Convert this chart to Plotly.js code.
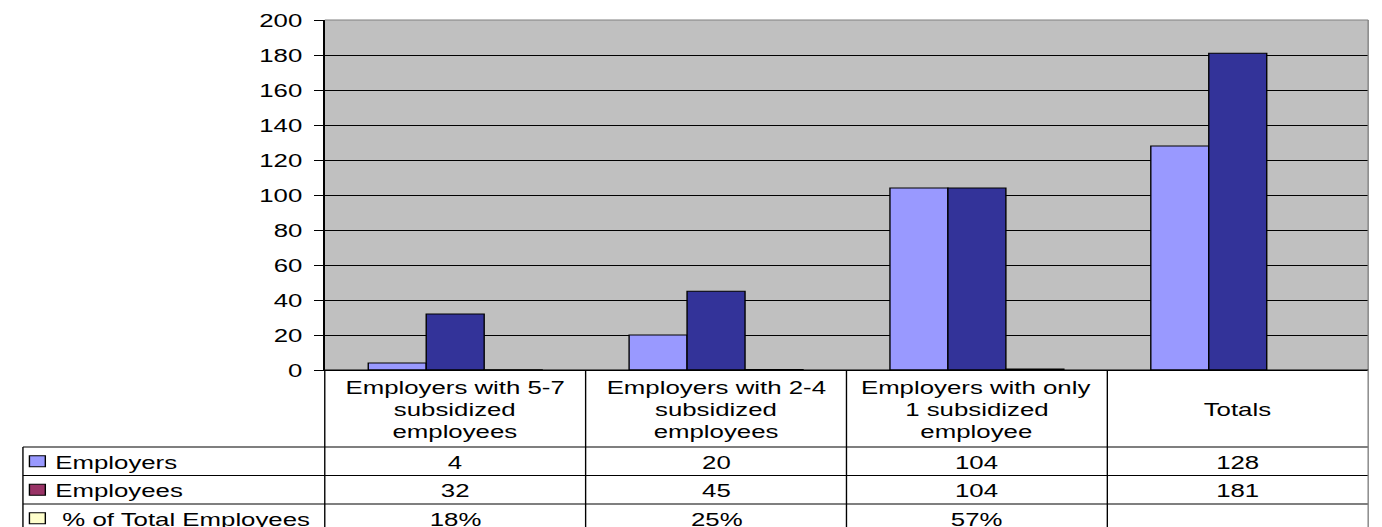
<!DOCTYPE html>
<html>
<head>
<meta charset="utf-8">
<script src="https://cdn.plot.ly/plotly-3.0.1.min.js"></script>
<style>
html,body{margin:0;padding:0;background:#fff;overflow:hidden;}
#wrap{width:1000px;height:527px;transform:scaleX(1.382);transform-origin:0 0;}
</style>
</head>
<body>
<div id="wrap"></div>
<script>
// ---- data ----
const categories = [
  "Employers with 5-7<br>subsidized<br>employees",
  "Employers with 2-4<br>subsidized<br>employees",
  "Employers with only<br>1 subsidized<br>employee",
  "Totals"
];
const employers = [4, 20, 104, 128];
const employees = [32, 45, 104, 181];
const pctTotal = [0.18, 0.25, 0.57, null];
const seriesNames = ["Employers", "Employees", "\u00a0% of Total Employees"];
const yTicks = [0, 20, 40, 60, 80, 100, 120, 140, 160, 180, 200];

// ---- styling ----
const FONT = {family: "Arial, 'Liberation Sans', sans-serif", size: 18.67, color: "#000"};
const barColors = ["#9999FF", "#333399", "#FFFFCC"];
const keyColors = ["#9999FF", "#993366", "#FFFFCC"];

// frame geometry (unstretched 1000px frame)
const FW = 1000, FH = 527;
const L = 235, R = 990, T = 20, B = 370;
const W = R - L, H = B - T;
const colW = W / categories.length;
const tableLeft = 16.6;
const headerBottom = 447;
const rowH = 28.5;
const px = x => (x - L) / W;
const py = y => (B - y) / H;

const traces = [
  {type: "bar", name: seriesNames[0], x: categories, y: employers,
   marker: {color: barColors[0], line: {color: "#000", width: 1}}},
  {type: "bar", name: seriesNames[1], x: categories, y: employees,
   marker: {color: barColors[1], line: {color: "#000", width: 1}}},
  {type: "bar", name: seriesNames[2], x: categories, y: pctTotal,
   marker: {color: barColors[2], line: {color: "#000", width: 1}}}
];

const shapes = [];
const annotations = [];
const line = (x0, y0, x1, y1, color) => shapes.push({
  type: "line", xref: "paper", yref: "paper",
  x0: px(x0), y0: py(y0), x1: px(x1), y1: py(y1),
  line: {color: color || "#000", width: 1}, layer: "above"
});

// plot area border (gray) top and right
line(L, T, R, T, "#808080");
line(R, T, R, B, "#808080");

// table
const nRows = seriesNames.length;
const tableBottom = headerBottom + rowH * (nRows) + 10;
line(L, B, R, B);
line(tableLeft, headerBottom, R, headerBottom);
for (let r = 1; r <= nRows; r++) {
  const y = headerBottom + rowH * r;
  line(tableLeft, y, R, y);
}
line(tableLeft, headerBottom, tableLeft, tableBottom);
for (let c = 0; c < categories.length; c++) {
  const x = L + colW * c;
  line(x, B, x, tableBottom);
}
line(R, B, R, tableBottom, "#808080");

// header labels (one annotation per line, tighter spacing)
const lineGap = 21.7;
categories.forEach((cat, c) => {
  const parts = cat.split("<br>");
  const cx = L + colW * (c + 0.5);
  const cy = (B + headerBottom) / 2 + 1;
  parts.forEach((p, i) => {
    const y = cy + (i - (parts.length - 1) / 2) * lineGap;
    annotations.push({xref: "paper", yref: "paper", x: px(cx), y: py(y),
      text: p, showarrow: false, xanchor: "center", yanchor: "middle", font: FONT});
  });
});

// rows
const rowValues = [
  employers.map(v => String(v)),
  employees.map(v => String(v)),
  pctTotal.map(v => v == null ? "" : Math.round(v * 100) + "%")
];
seriesNames.forEach((name, r) => {
  const cy = headerBottom + rowH * (r + 0.5);
  // legend key
  shapes.push({type: "rect", xref: "paper", yref: "paper",
    x0: px(21.3), x1: px(32.8), y0: py(cy - 5.5), y1: py(cy + 5.5),
    fillcolor: keyColors[r], line: {color: "#000", width: 1}, layer: "above"});
  annotations.push({xref: "paper", yref: "paper", x: px(37.5), y: py(cy + 1),
    text: name, showarrow: false, xanchor: "left", yanchor: "middle", font: FONT});
  rowValues[r].forEach((v, c) => {
    if (v === "") return;
    annotations.push({xref: "paper", yref: "paper", x: px(L + colW * (c + 0.5)), y: py(cy + 1),
      text: v, showarrow: false, xanchor: "center", yanchor: "middle", font: FONT});
  });
});

const layout = {
  width: FW, height: FH,
  margin: {l: L, r: FW - R, t: T, b: FH - B, pad: 0},
  paper_bgcolor: "#ffffff",
  plot_bgcolor: "#C0C0C0",
  showlegend: false,
  barmode: "group",
  bargap: 1 / 3,
  bargroupgap: 0,
  font: FONT,
  xaxis: {type: "category", showticklabels: false, ticks: "", showgrid: false,
    showline: true, linecolor: "#000", linewidth: 1, zeroline: false, fixedrange: true},
  yaxis: {range: [0, 200], tickvals: yTicks, ticktext: yTicks.map(String),
    ticks: "outside", ticklen: 6.5, tickcolor: "#000", tickwidth: 1,
    ticklabelstandoff: 5,
    showgrid: true, gridcolor: "#000", gridwidth: 1,
    showline: true, linecolor: "#000", linewidth: 1, zeroline: false,
    tickfont: FONT, fixedrange: true},
  shapes: shapes,
  annotations: annotations
};

Plotly.newPlot("wrap", traces, layout, {displayModeBar: false, staticPlot: true});
</script>
</body>
</html>
